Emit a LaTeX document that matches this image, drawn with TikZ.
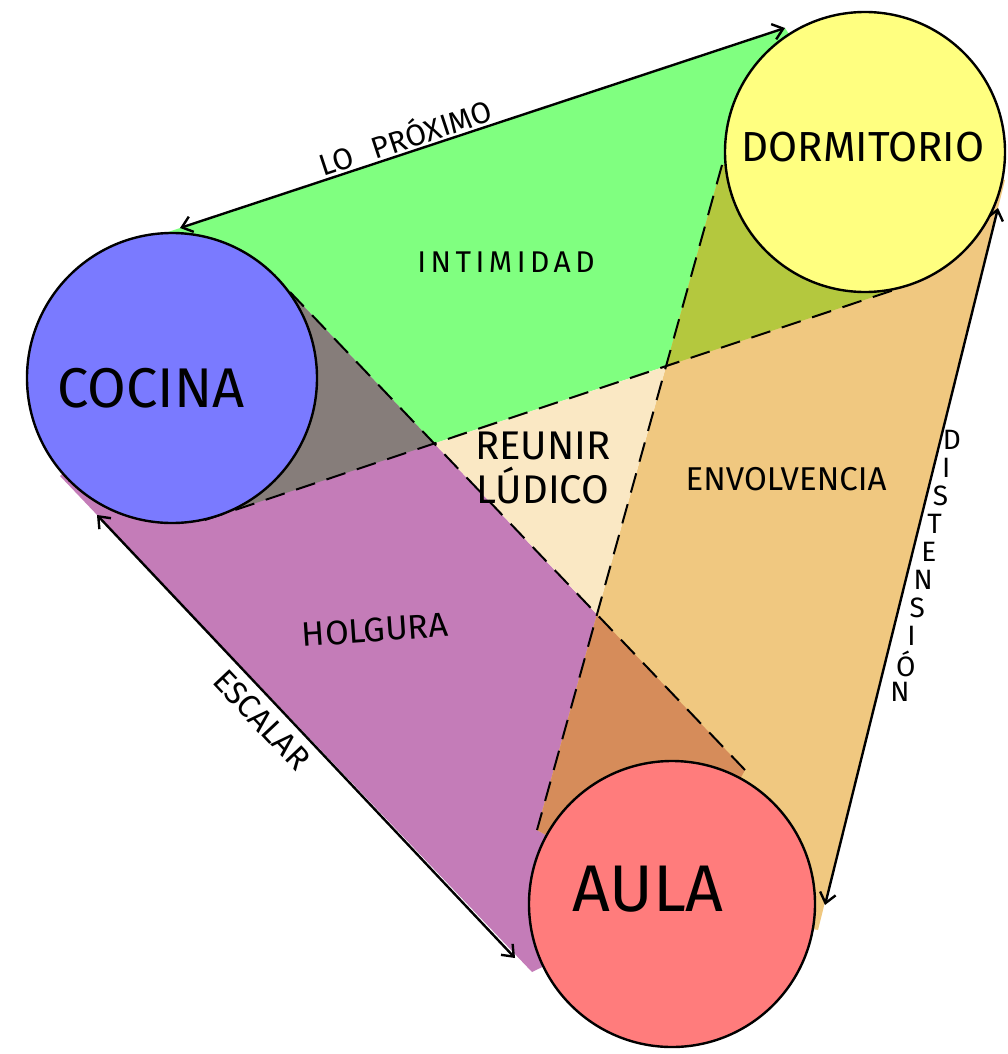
\documentclass[tikz,border=0pt]{standalone}
\usepackage{fontspec}
\setmainfont{Fira Sans}
\usetikzlibrary{arrows.meta,calc}
\definecolor{cocinac}{RGB}{122,122,255}
\definecolor{dormc}{RGB}{255,255,128}
\definecolor{aulac}{RGB}{255,124,124}
\definecolor{intimc}{RGB}{128,255,128}
\definecolor{holgc}{RGB}{196,124,184}
\definecolor{envolc}{RGB}{240,200,128}
\definecolor{reunc}{RGB}{250,232,196}
\definecolor{greyc}{RGB}{134,125,122}
\definecolor{olivc}{RGB}{180,200,62}
\definecolor{brownc}{RGB}{214,140,90}

\begin{document}
\begin{tikzpicture}[x=0.5pt,y=-0.5pt,
  room/.style={circle,draw,line width=1.2pt,inner sep=0pt},
  link/.style={line width=1.2pt,{Straight Barb[length=5pt,width=8pt]}-{Straight Barb[length=5pt,width=8pt]}},
  seam/.style={line width=1pt,dash pattern=on 10pt off 6pt},
  lbl/.style={font=\fontsize{15}{17}\selectfont,inner sep=1pt},
  big/.style={font=\fontsize{#1}{#1}\selectfont,inner sep=0pt}]
  \useasboundingbox[fill=white] (0,0) rectangle (1007,1054);
  % band edges
  \coordinate (gA) at (180,228); \coordinate (gB) at (785,28);
  \coordinate (gC) at (205,520); \coordinate (gD) at (900,288);
  \coordinate (hA) at (97,515);  \coordinate (hB) at (515,958);
  \coordinate (hC) at (290,292); \coordinate (hD) at (745,770);
  \coordinate (eA) at (998,208); \coordinate (eB) at (825,905);
  \coordinate (eC) at (722,165); \coordinate (eD) at (537,830);
  \coordinate (cC) at (172,378); \coordinate (dC) at (865,152); \coordinate (aC) at (672,904);
  \def\intimband{(150,238) -- (gB) -- (dC) -- (gD) -- (gC) -- (cC) -- cycle}
  \def\holgband{(60,476) -- (532,972) -- (aC) -- (hD) -- (hC) -- (cC) -- cycle}
  \def\envolband{(1005,180) -- (818,930) -- (aC) -- (eD) -- (eC) -- (dC) -- cycle}
  \fill[intimc] \intimband;
  \fill[holgc] \holgband;
  \fill[envolc] \envolband;
  \begin{scope} \clip \intimband; \fill[greyc] \holgband; \fill[olivc] \envolband; \end{scope}
  \begin{scope} \clip \holgband; \fill[brownc] \envolband; \end{scope}
  % centre triangle
  \coordinate (rA) at (intersection of gC--gD and hC--hD);
  \coordinate (rB) at (intersection of gC--gD and eC--eD);
  \coordinate (rC) at (intersection of hC--hD and eC--eD);
  \fill[reunc] (rA) -- (rB) -- (rC) -- cycle;
  \draw[seam] (gC) -- (gD);
  \draw[seam] (hC) -- (hD);
  \draw[seam] (eC) -- (eD);
  \draw[link] (gA) -- node[lbl,sloped,above,pos=0.38] (proxlbl) {LO\hspace{0.7em}PRÓXIMO} (gB);
  \draw[link] (hA) -- node[lbl,sloped,below=3pt,pos=0.43,font=\fontsize{16}{18}\selectfont] (esclbl) {ESCALAR} (hB);
  \draw[link] (eA) -- (eB);
  % rooms
  \node[room,fill=cocinac,minimum size=145pt] (cocina) at (cC) {};
  \node[room,fill=dormc,minimum size=140pt] (dormitorio) at (dC) {};
  \node[room,fill=aulac,minimum size=143pt] (aula) at (aC) {};
  \node[big=28] (cocinalbl) at (151,388) {COCINA};
  \node[big=21] (dormlbl) at (863,147) {DORMITORIO};
  \node[big=33] (aulalbl) at (648,889) {AULA};
  % band labels
  \node[lbl,font=\fontsize{15}{17}\selectfont\addfontfeatures{LetterSpace=15}] (intimlbl) at (506,262) {INTIMIDAD};
  \node[lbl,align=center,font=\fontsize{20}{22}\selectfont] (reunlbl) at (543,468) {REUNIR\\LÚDICO};
  \node[lbl,font=\fontsize{16.5}{18}\selectfont] (envollbl) at (786,479) {ENVOLVENCIA};
  \node[lbl,font=\fontsize{17}{19}\selectfont,rotate=4] (holglbl) at (375,630) {HOLGURA};
  \coordinate (dsA) at (952,440); \coordinate (dsB) at (900,692);
  \foreach \l [count=\i from 0] in {D,I,S,T,E,N,S,I,Ó,N}
    \node[lbl,font=\fontsize{14}{14}\selectfont] (dis\i) at ($(dsA)!{\i/9}!(dsB)$) {\l};
\end{tikzpicture}
\end{document}
